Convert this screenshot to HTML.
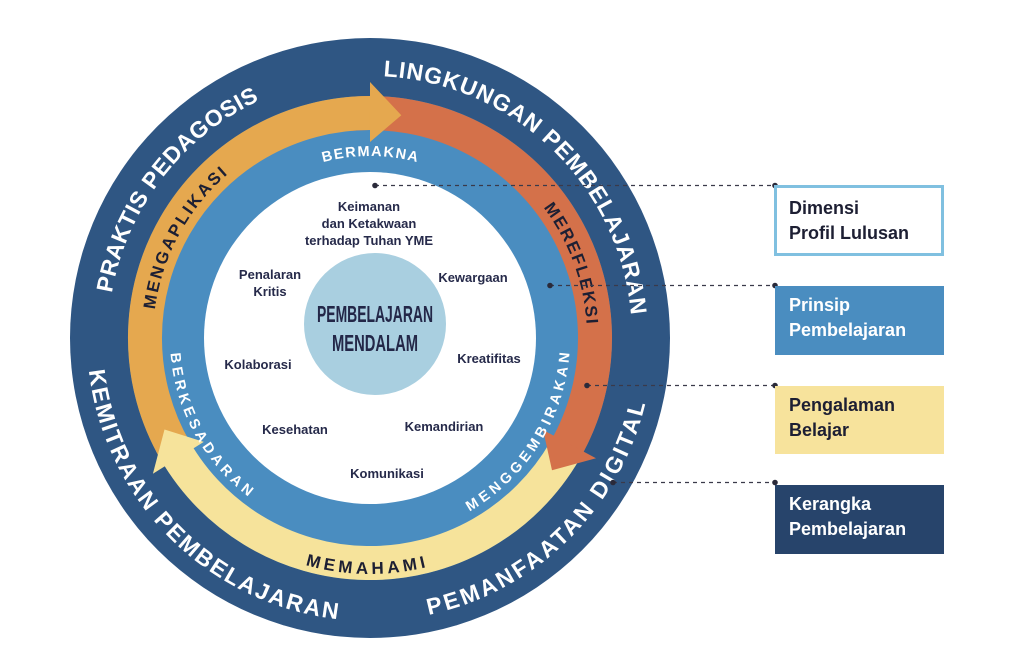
<!DOCTYPE html>
<html><head><meta charset="utf-8"><style>
html,body{margin:0;padding:0;background:#fff;width:1024px;height:648px;overflow:hidden}
svg{display:block}
.ot{font-family:"Liberation Sans",sans-serif;font-weight:bold;fill:#fff;font-size:23px}
.mt{font-family:"Liberation Sans",sans-serif;font-weight:bold;fill:#1d1f33;font-size:17px}
.bt{font-family:"Liberation Sans",sans-serif;font-weight:bold;fill:#fff;font-size:14.5px}
.il{font-family:"Liberation Sans",sans-serif;font-weight:bold;fill:#262a4a;font-size:13px;text-anchor:middle}
.bx{font-family:"Liberation Sans",sans-serif;font-weight:bold;font-size:18px}
</style></head><body>
<svg width="1024" height="648" viewBox="0 0 1024 648" xmlns="http://www.w3.org/2000/svg">
<defs>
<path id="oTop" d="M108,338 A262,262 0 0 1 632,338"/>
<path id="oBot" d="M87,338 A283,283 0 0 0 653,338"/>
<path id="mTop" d="M153,338 A217,217 0 0 1 587,338"/>
<path id="mBot" d="M134,338 A236,236 0 0 0 606,338"/>
<path id="bTop" d="M188,338 A182,182 0 0 1 552,338"/>
<path id="bBot" d="M170,338 A200,200 0 0 0 570,338"/>
</defs>
<circle cx="370" cy="338" r="300" fill="#2f5683"/>
<circle cx="370" cy="338" r="242" fill="#4a8dc0"/>
<circle cx="370" cy="338" r="166" fill="#fff"/>
<path d="M350.4,113.9 A225,225 0 0 1 564.9,450.5" fill="none" stroke="#d4714a" stroke-width="34"/>
<path d="M564.9,450.5 A225,225 0 0 1 171.3,443.6" fill="none" stroke="#f6e39b" stroke-width="34"/>
<path d="M175.1,450.5 A225,225 0 0 1 370,113" fill="none" stroke="#e5a84f" stroke-width="34"/>
<polygon points="370,142 370,82 401.3,115.2" fill="#e5a84f"/>
<polygon points="543.1,430 596,458.2 552,470.3" fill="#d4714a"/>
<polygon points="203.8,441.9 152.9,473.7 164.5,429.5" fill="#f6e39b"/>
<circle cx="375" cy="324" r="71" fill="#a9cfe0"/>
<text class="ot"><textPath href="#oTop" startOffset="20.8%" text-anchor="middle" textLength="252" lengthAdjust="spacing">PRAKTIS PEDAGOSIS</textPath></text>
<text class="ot"><textPath href="#oTop" startOffset="74.4%" text-anchor="middle" textLength="375" lengthAdjust="spacing">LINGKUNGAN PEMBELAJARAN</textPath></text>
<text class="ot"><textPath href="#oBot" startOffset="25%" text-anchor="middle" textLength="379" lengthAdjust="spacing">KEMITRAAN PEMBELAJARAN</textPath></text>
<text class="ot"><textPath href="#oBot" startOffset="74.6%" text-anchor="middle" textLength="319" lengthAdjust="spacing">PEMANFAATAN DIGITAL</textPath></text>
<text class="mt"><textPath href="#mTop" startOffset="15.7%" text-anchor="middle" textLength="157" lengthAdjust="spacing">MENGAPLIKASI</textPath></text>
<text class="mt"><textPath href="#mTop" startOffset="88.7%" text-anchor="middle" textLength="126" lengthAdjust="spacing">MEREFLEKSI</textPath></text>
<text class="mt"><textPath href="#mBot" startOffset="49.4%" text-anchor="middle" textLength="122" lengthAdjust="spacing">MEMAHAMI</textPath></text>
<text class="bt"><textPath href="#bTop" startOffset="50%" text-anchor="middle" textLength="95" lengthAdjust="spacing">BERMAKNA</textPath></text>
<text class="bt"><textPath href="#bBot" startOffset="15.8%" text-anchor="middle" textLength="168" lengthAdjust="spacing">BERKESADARAN</textPath></text>
<text class="bt"><textPath href="#bBot" startOffset="82.1%" text-anchor="middle" textLength="195" lengthAdjust="spacing">MENGGEMBIRAKAN</textPath></text>
<text x="375" y="322" text-anchor="middle" font-family="'Liberation Sans Narrow','Liberation Sans',sans-serif" font-weight="bold" font-size="23" fill="#232748" textLength="116" lengthAdjust="spacingAndGlyphs">PEMBELAJARAN</text>
<text x="375" y="351" text-anchor="middle" font-family="'Liberation Sans Narrow','Liberation Sans',sans-serif" font-weight="bold" font-size="23" fill="#232748" textLength="86" lengthAdjust="spacingAndGlyphs">MENDALAM</text>
<text class="il" x="369" y="211">Keimanan</text>
<text class="il" x="369" y="228">dan Ketakwaan</text>
<text class="il" x="369" y="245">terhadap Tuhan YME</text>
<text class="il" x="270" y="279">Penalaran</text>
<text class="il" x="270" y="296">Kritis</text>
<text class="il" x="473" y="282">Kewargaan</text>
<text class="il" x="258" y="369">Kolaborasi</text>
<text class="il" x="489" y="363">Kreatifitas</text>
<text class="il" x="295" y="434">Kesehatan</text>
<text class="il" x="444" y="431">Kemandirian</text>
<text class="il" x="387" y="478">Komunikasi</text>
<g stroke="#3a3a4a" stroke-width="1.2" stroke-dasharray="4 4" fill="none">
<line x1="375" y1="185.5" x2="775" y2="185.5"/>
<line x1="550" y1="285.5" x2="775" y2="285.5"/>
<line x1="587" y1="385.5" x2="775" y2="385.5"/>
<line x1="613" y1="482.5" x2="775" y2="482.5"/>
</g>
<g fill="#2a2a3a">
<circle cx="375" cy="185.5" r="2.8"/><circle cx="775" cy="185.5" r="2.8"/>
<circle cx="550" cy="285.5" r="2.8"/><circle cx="775" cy="285.5" r="2.8"/>
<circle cx="587" cy="385.5" r="2.8"/><circle cx="775" cy="385.5" r="2.8"/>
<circle cx="613" cy="482.5" r="2.8"/><circle cx="775" cy="482.5" r="2.8"/>
</g>
<rect x="775.5" y="186.5" width="167" height="68" fill="#fff" stroke="#80c0e0" stroke-width="3"/>
<text class="bx" fill="#1d1f33" x="789" y="214">Dimensi</text>
<text class="bx" fill="#1d1f33" x="789" y="239">Profil Lulusan</text>
<rect x="775" y="286" width="169" height="69" fill="#4a8dc0"/>
<text class="bx" fill="#fff" x="789" y="311">Prinsip</text>
<text class="bx" fill="#fff" x="789" y="336">Pembelajaran</text>
<rect x="775" y="386" width="169" height="68" fill="#f7e39c"/>
<text class="bx" fill="#1d1f33" x="789" y="411">Pengalaman</text>
<text class="bx" fill="#1d1f33" x="789" y="436">Belajar</text>
<rect x="775" y="485" width="169" height="69" fill="#27446b"/>
<text class="bx" fill="#fff" x="789" y="510">Kerangka</text>
<text class="bx" fill="#fff" x="789" y="535">Pembelajaran</text>
</svg>
</body></html>
